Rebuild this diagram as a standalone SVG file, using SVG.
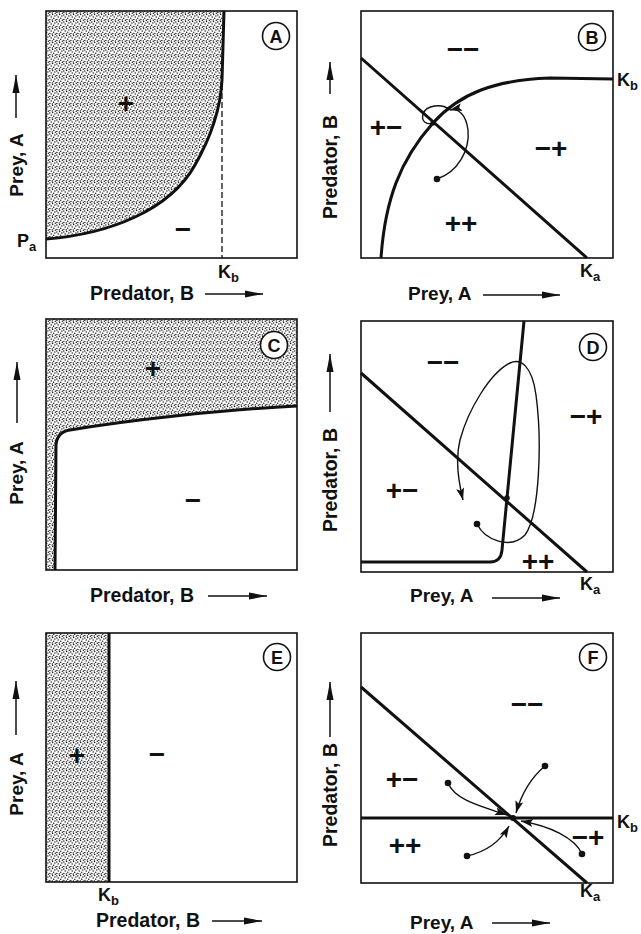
<svg xmlns="http://www.w3.org/2000/svg" width="641" height="934" viewBox="0 0 641 934">
<style>
.box{fill:none;stroke:#111;stroke-width:1.6}
.iso{fill:none;stroke:#111;stroke-width:3;stroke-linejoin:round;stroke-linecap:butt}
.traj{fill:none;stroke:#111;stroke-width:1.4}
.ax{fill:none;stroke:#111;stroke-width:1.5}
.lbl{font-family:"Liberation Sans",Arial,sans-serif;font-weight:bold;font-size:19px;fill:#111}
.big{font-family:"Liberation Sans",Arial,sans-serif;font-weight:bold;font-size:19.5px;fill:#111}
.sign{font-family:"Liberation Sans",Arial,sans-serif;font-weight:bold;font-size:28px;fill:#111;text-anchor:middle}
.k{font-family:"Liberation Sans",Arial,sans-serif;font-weight:bold;font-size:18px;fill:#111}
.cl{font-family:"Liberation Sans",Arial,sans-serif;font-weight:bold;font-size:18px;fill:#111;text-anchor:middle}
.ring{fill:#fff;stroke:#111;stroke-width:1.6}
.dot{fill:#111}
.shade{fill:url(#dots)}
</style>
<defs>
<pattern id="dots" width="7" height="7" patternUnits="userSpaceOnUse">
<rect width="7" height="7" fill="#fff"/>
<g fill="#1a1a1a">
<circle cx="0.8" cy="1.0" r="0.75"/>
<circle cx="3.6" cy="0.6" r="0.75"/>
<circle cx="5.9" cy="2.0" r="0.75"/>
<circle cx="2.2" cy="3.1" r="0.75"/>
<circle cx="4.7" cy="4.2" r="0.75"/>
<circle cx="0.9" cy="5.4" r="0.75"/>
<circle cx="3.3" cy="6.0" r="0.75"/>
<circle cx="6.3" cy="6.2" r="0.75"/>
</g>
</pattern>
<marker id="axh" markerUnits="userSpaceOnUse" markerWidth="18" markerHeight="8" viewBox="0 0 18 8" refX="18" refY="4" orient="auto">
<path d="M0,0.5 L18,4 L0,7.5 Z" fill="#111"/>
</marker>
<marker id="trh" markerUnits="userSpaceOnUse" markerWidth="12" markerHeight="8" viewBox="0 0 12 8" refX="12" refY="4" orient="auto">
<path d="M0,0 L12,4 L0,8 L2.5,4 Z" fill="#111"/>
</marker>
</defs>

<!-- Panel A -->
<g id="panelA">
<path class="shade" d="M46,11 L224,11 L222,80 C221,100 215,130 195,165 C170,210 110,234 46,239 Z"/>
<line x1="222" y1="84" x2="222" y2="258" stroke="#111" stroke-width="1.3" stroke-dasharray="6,3"/>
<path class="iso" d="M46,239 C110,234 170,210 195,165 C215,130 221,100 222,80 L224,11"/>
<rect class="box" x="46" y="11" width="251" height="247"/>
<circle class="ring" cx="276" cy="36" r="13.5"/><text class="cl" x="276" y="42.5">A</text>
<text class="sign" x="126" y="113">+</text>
<text class="sign" x="183" y="239">−</text>
<text class="k" x="17" y="247">P<tspan font-size="13" dy="4">a</tspan></text>
<text class="k" x="218" y="278">K<tspan font-size="13" dy="4">b</tspan></text>
<text class="big" x="90" y="300">Predator, B</text>
<line class="ax" x1="205" y1="294" x2="263" y2="294" marker-end="url(#axh)"/>
<text class="lbl" transform="translate(23,165) rotate(-90)" text-anchor="middle">Prey, A</text>
<line class="ax" x1="16" y1="118" x2="16" y2="75" marker-end="url(#axh)"/>
</g>

<!-- Panel B -->
<g id="panelB">
<rect class="box" x="361" y="11" width="252" height="247"/>
<line class="iso" x1="361" y1="58" x2="587" y2="258"/>
<path class="iso" d="M381,258 C385,200 400,160 433,123 C460,93 495,80 550,78 L613,79"/>
<path class="traj" d="M437,179 C458,172 470,150 468,130 C466,114 458,108 450,110" marker-end="url(#trh)"/>
<path class="traj" d="M450,110 C442,103 426,105 423,114 C421,122 427,125 433,123"/>
<circle class="dot" cx="433" cy="123" r="2.6"/>
<circle class="dot" cx="437" cy="179" r="3.3"/>
<circle class="ring" cx="592" cy="37" r="13.5"/><text class="cl" x="592" y="43.5">B</text>
<text class="sign" x="463" y="59">−−</text>
<text class="sign" x="386" y="137">+−</text>
<text class="sign" x="551" y="158">−+</text>
<text class="sign" x="461" y="233">++</text>
<text class="k" x="617" y="86">K<tspan font-size="13" dy="4">b</tspan></text>
<text class="k" x="580" y="277">K<tspan font-size="13" dy="4">a</tspan></text>
<text class="lbl" x="408" y="300">Prey, A</text>
<line class="ax" x1="483" y1="295" x2="560" y2="295" marker-end="url(#axh)"/>
<text class="big" transform="translate(337,167) rotate(-90)" text-anchor="middle">Predator, B</text>
<line class="ax" x1="330" y1="94" x2="330" y2="62" marker-end="url(#axh)"/>
</g>

<!-- Panel C -->
<g id="panelC">
<path class="shade" d="M46,319 L297,319 L297,406 C220,410 130,420 70,430 Q57,432 56,445 L55,570 L46,570 Z"/>
<path class="iso" d="M55,570 L56,445 Q57,432 70,430 C130,420 220,410 297,406"/>
<rect class="box" x="46" y="319" width="251" height="251"/>
<circle class="ring" cx="274" cy="345" r="13.5"/><text class="cl" x="274" y="351.5">C</text>
<text class="sign" x="153" y="378">+</text>
<text class="sign" x="193" y="510">−</text>
<text class="big" x="90" y="602">Predator, B</text>
<line class="ax" x1="208" y1="596" x2="267" y2="596" marker-end="url(#axh)"/>
<text class="lbl" transform="translate(23,473) rotate(-90)" text-anchor="middle">Prey, A</text>
<line class="ax" x1="17" y1="423" x2="17" y2="362" marker-end="url(#axh)"/>
</g>

<!-- Panel D -->
<g id="panelD">
<rect class="box" x="361" y="321" width="252" height="251"/>
<line class="iso" x1="361" y1="373" x2="587" y2="572"/>
<path class="iso" d="M361,562 L490,562 Q501,562 502,550 L524,321"/>
<path class="traj" d="M477,524 C485,540 510,550 525,535 C540,515 542,440 536,395 C532,365 520,358 510,363 C490,373 468,410 460,440 C455,460 458,480 463,500" marker-end="url(#trh)"/>
<circle class="dot" cx="507" cy="498" r="2.8"/>
<circle class="dot" cx="477" cy="524" r="3.3"/>
<circle class="ring" cx="593" cy="347" r="13.5"/><text class="cl" x="593" y="353.5">D</text>
<text class="sign" x="443" y="372">−−</text>
<text class="sign" x="586" y="426">−+</text>
<text class="sign" x="402" y="500">+−</text>
<text class="sign" x="538" y="571">++</text>
<text class="k" x="580" y="590">K<tspan font-size="13" dy="4">a</tspan></text>
<text class="lbl" x="410" y="602">Prey, A</text>
<line class="ax" x1="492" y1="598" x2="560" y2="598" marker-end="url(#axh)"/>
<text class="big" transform="translate(337,480) rotate(-90)" text-anchor="middle">Predator, B</text>
<line class="ax" x1="330" y1="412" x2="330" y2="354" marker-end="url(#axh)"/>
</g>

<!-- Panel E -->
<g id="panelE">
<rect class="shade" x="46" y="633" width="63" height="249"/>
<line class="iso" x1="109" y1="633" x2="109" y2="882"/>
<rect class="box" x="46" y="633" width="251" height="249"/>
<circle class="ring" cx="277" cy="657" r="13.5"/><text class="cl" x="277" y="663.5">E</text>
<text class="sign" x="77" y="765">+</text>
<text class="sign" x="157" y="764">−</text>
<text class="k" x="98" y="901">K<tspan font-size="13" dy="4">b</tspan></text>
<text class="big" x="96" y="927">Predator, B</text>
<line class="ax" x1="212" y1="921" x2="262" y2="921" marker-end="url(#axh)"/>
<text class="lbl" transform="translate(23,784) rotate(-90)" text-anchor="middle">Prey, A</text>
<line class="ax" x1="16" y1="735" x2="16" y2="681" marker-end="url(#axh)"/>
</g>

<!-- Panel F -->
<g id="panelF">
<rect class="box" x="361" y="633" width="252" height="250"/>
<line class="iso" x1="361" y1="687" x2="587" y2="883"/>
<line class="iso" x1="361" y1="818" x2="613" y2="818"/>
<path class="traj" d="M545,766 C533,776 522,792 516,813" marker-end="url(#trh)"/>
<path class="traj" d="M448,783 C455,800 480,806 507,815" marker-end="url(#trh)"/>
<path class="traj" d="M467,856 C485,852 500,842 509,826" marker-end="url(#trh)"/>
<path class="traj" d="M582,854 C575,838 550,826 521,821" marker-end="url(#trh)"/>
<circle class="dot" cx="513" cy="818" r="3"/>
<circle class="dot" cx="545" cy="766" r="3.3"/>
<circle class="dot" cx="448" cy="783" r="3.3"/>
<circle class="dot" cx="467" cy="856" r="3.3"/>
<circle class="dot" cx="582" cy="854" r="3.3"/>
<circle class="ring" cx="593" cy="657" r="13.5"/><text class="cl" x="593" y="663.5">F</text>
<text class="sign" x="527" y="714">−−</text>
<text class="sign" x="402" y="789">+−</text>
<text class="sign" x="405" y="855">++</text>
<text class="sign" x="588" y="847">−+</text>
<text class="k" x="617" y="828">K<tspan font-size="13" dy="4">b</tspan></text>
<text class="k" x="580" y="897">K<tspan font-size="13" dy="4">a</tspan></text>
<text class="lbl" x="410" y="929">Prey, A</text>
<line class="ax" x1="492" y1="923" x2="550" y2="923" marker-end="url(#axh)"/>
<text class="big" transform="translate(337,795) rotate(-90)" text-anchor="middle">Predator, B</text>
<line class="ax" x1="330" y1="737" x2="330" y2="682" marker-end="url(#axh)"/>
</g>
</svg>
